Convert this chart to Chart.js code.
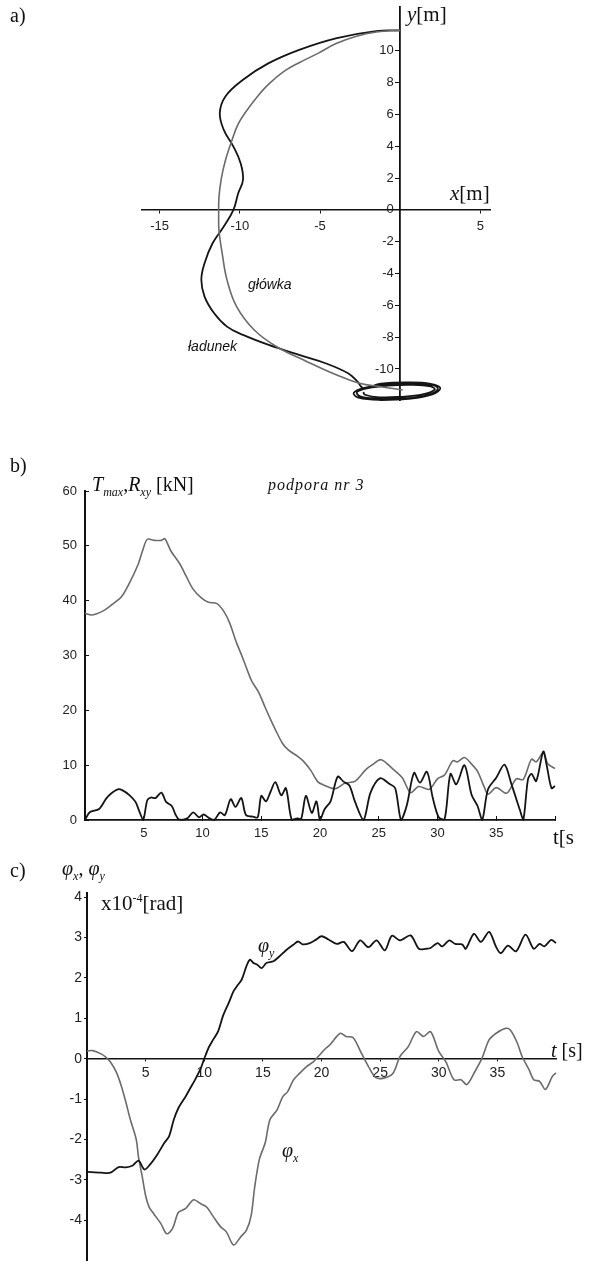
<!DOCTYPE html>
<html lang="pl">
<head>
    <meta charset="UTF-8">
    <title>Trajektoria ładunku, siły i kąty wychylenia</title>
    <script src="https://cdn.jsdelivr.net/npm/chart.js"></script>
    <style>
        body { margin: 0; background: #fff; }
        #strona { position: relative; width: 589px; height: 1261px; overflow: hidden; }
        canvas { position: absolute; left: 0; }
        .opis { position: absolute; white-space: nowrap; line-height: 1; color: #111;
                font-family: 'Liberation Serif', 'Times New Roman', serif; font-size: 20px; }
        .opis sub { font-size: 12px; vertical-align: -5px; line-height: 0; }
        .opis sup { font-size: 12px; vertical-align: 8px; line-height: 0; }
        .etykieta { font-family: 'Liberation Sans', Arial, sans-serif; font-style: italic; font-size: 14px; }
    </style>
</head>
<body>
<div id="strona">
    <canvas id="wykresA" width="589" height="420" style="top:0"></canvas>
    <canvas id="wykresB" width="589" height="430" style="top:430px"></canvas>
    <canvas id="wykresC" width="589" height="401" style="top:860px"></canvas>

    <!-- a) -->
    <div class="opis" style="left:10px; top:5px">a)</div>
    <div class="opis" style="left:407px; top:4px; font-size:21px"><i>y</i>[m]</div>
    <div class="opis" style="left:450px; top:183px; font-size:21px"><i>x</i>[m]</div>
    <div class="opis etykieta" style="left:248px; top:277px">główka</div>
    <div class="opis etykieta" style="left:188px; top:339px">ładunek</div>

    <!-- b) -->
    <div class="opis" style="left:10px; top:455px">b)</div>
    <div class="opis" style="left:92px; top:474px"><i>T</i><sub><i>max</i></sub>,<i>R</i><sub><i>xy</i></sub> [kN]</div>
    <div class="opis" style="left:268px; top:477px; font-size:16px; font-style:italic; letter-spacing:1px">podpora nr 3</div>
    <div class="opis" style="left:553px; top:827px; font-size:21px">t[s</div>

    <!-- c) -->
    <div class="opis" style="left:10px; top:860px">c)</div>
    <div class="opis" style="left:62px; top:858px"><i>φ<sub>x</sub></i>, <i>φ<sub>y</sub></i></div>
    <div class="opis" style="left:101px; top:893px; font-size:21px">x10<sup>-4</sup>[rad]</div>
    <div class="opis" style="left:258px; top:935px"><i>φ<sub>y</sub></i></div>
    <div class="opis" style="left:282px; top:1140px"><i>φ<sub>x</sub></i></div>
    <div class="opis" style="left:551px; top:1040px"><i>t</i> [s]</div>
</div>

<script>
    // a) tor ruchu w płaszczyźnie xy [m]
    var ladunekX = [0, -1.5, -3.95, -6.3, -8.2, -9.8, -10.9, -11.25, -11.0, -10.4,
        -9.95, -9.8, -10.1, -10.4, -11.0, -11.7, -12.2, -12.4, -12.2, -11.6,
        -10.8, -9.8, -8.2, -6.3, -4.66, -3.25, -2.66, -2.3,
        -1.2, 0.5, 1.9, 2.5, 2.0, 0.5, -1.2, -2.6, -2.9, -2.3,
        -1.1, 0.6, 2.0, 2.35, 1.7, 0.3, -1.3, -2.5, -2.7, -2.0,
        -0.8, 0.7, 1.9, 2.15, 1.4, 0, -1.3, -2.2, -2.3];
    var ladunekY = [11.28, 11.24, 10.8, 10.06, 9.22, 8.18, 7.13, 6.08, 5.03, 3.98,
        2.93, 1.89, 1.05, 0, -1.05, -2.1, -3.35, -4.4, -5.45, -6.5,
        -7.34, -7.86, -8.49, -9.12, -9.64, -10.27, -10.8, -11.2,
        -10.92, -10.84, -10.93, -11.2, -11.6, -11.88, -11.95, -11.8, -11.5, -11.2,
        -10.98, -10.9, -11.0, -11.25, -11.65, -11.85, -11.88, -11.72, -11.45, -11.2,
        -11.05, -11.0, -11.1, -11.3, -11.6, -11.75, -11.78, -11.62, -11.45];
    var glowkaX = [0, -1.5, -2.78, -4.0, -5.1, -6.3, -7.25, -8.2, -8.9, -9.6,
        -10.1, -10.55, -10.9, -11.15, -11.3, -11.32, -11.3, -11.1, -10.8, -10.2,
        -9.1, -7.7, -5.8, -3.95, -2.54, -1.2, 0.16];
    var glowkaY = [11.28, 11.18, 10.9, 10.45, 9.85, 9.25, 8.7, 7.9, 7.13, 6.2,
        5.4, 4.2, 3.1, 2.0, 0.8, -0.3, -1.3, -2.73, -4.4, -6.08,
        -7.55, -8.6, -9.54, -10.38, -10.9, -11.12, -11.32];
    var xTicksA = [-15, -10, -5, 5];
    var yTicksA = [-10, -8, -6, -4, -2, 0, 2, 4, 6, 8, 10];

    // b) siły na podporze nr 3 [kN]
    var czasT = [0, 0.6, 1.5, 2.3, 3.1, 3.8, 4.5, 4.9, 5.3, 5.9, 6.5, 6.8, 7.3, 8.1, 8.6, 9.2, 9.9, 10.5, 11.2, 11.8,
        12.3, 12.9, 13.3, 13.8, 14.2, 14.8, 15.3, 15.8, 16.2, 16.8, 17.3, 18.1, 18.6, 19.2, 19.8, 20.3, 21.3, 22.1, 23.0, 23.9,
        24.4, 25.2, 26.1, 27.0, 27.7, 28.4, 29.3, 30.0, 30.6, 31.3, 31.7, 32.3, 32.9, 33.4, 34.0, 34.3, 35.0, 35.9, 36.7, 37.3,
        38.0, 38.4, 39.0, 39.4, 40.0];
    var silaT = [37.7, 37.4, 38.1, 39.3, 40.7, 43.3, 46.5, 49.1, 51.2, 51.0, 51.0, 51.3, 49.1, 46.6, 44.5, 42.1, 40.5, 39.7, 39.5, 38.1,
        36.0, 32.3, 30.2, 27.4, 25.3, 23.2, 20.7, 18.3, 16.5, 14.0, 12.8, 11.6, 10.7, 9.1, 7.0, 6.4, 5.7, 6.7, 7.1, 9.2,
        10.0, 11.0, 9.5, 7.7, 5.0, 6.1, 5.6, 7.5, 8.2, 10.8, 10.6, 11.4, 10.2, 8.9, 5.9, 4.7, 5.9, 4.9, 7.5, 7.4,
        11.1, 10.6, 12.3, 10.2, 9.4];
    var czasR = [0, 0.4, 1.2, 1.8, 2.2, 2.8, 3.2, 3.8, 4.3, 4.6, 4.95, 5.3, 5.6, 6.0, 6.5, 6.9, 7.4, 7.7, 8.0, 8.7,
        9.2, 9.7, 10.1, 10.6, 11.0, 11.5, 11.9, 12.4, 12.8, 13.3, 13.7, 14.3, 14.7, 15.0, 15.4, 15.8, 16.2, 16.7, 17.1, 17.6,
        18.1, 18.4, 18.8, 19.3, 19.7, 20.0, 20.4, 20.9, 21.5, 22.0, 22.5, 23.0, 23.7, 24.3, 25.1, 25.9, 26.4, 26.9, 27.4, 28.0,
        28.5, 29.1, 29.6, 30.1, 30.6, 31.1, 31.6, 32.3, 32.9, 33.4, 33.8, 34.3, 35.0, 35.7, 36.3, 37.0, 37.3, 37.7, 38.0, 38.4,
        39.0, 39.3, 39.7, 40.0];
    var silaR = [0, 1.4, 2.0, 3.9, 4.8, 5.6, 5.4, 4.5, 3.3, 1.7, 0, 3.6, 4.1, 4.0, 5.0, 3.3, 2.5, 1.0, 0.1, 0.3,
        1.4, 0.5, 1.0, 0.3, 0, 1.4, 0.9, 3.8, 2.4, 4.0, 0.9, 0.6, 0.5, 4.4, 3.4, 5.2, 6.9, 4.5, 5.8, 0,
        0.3, 0.2, 4.4, 1.3, 3.4, 0, 2.0, 3.4, 7.9, 7.0, 6.3, 3.2, 0, 5.0, 7.6, 6.6, 5.8, 0, 2.8, 8.6,
        6.8, 8.8, 4.0, 0.5, 0.1, 8.4, 6.5, 10.0, 4.6, 2.6, 0, 5.6, 7.7, 10.1, 6.5, 1.9, 0, 7.4, 8.4, 7.1,
        12.5, 9.9, 5.8, 6.2];
    var xTicksB = [5, 10, 15, 20, 25, 30, 35, 40];
    var yTicksB = [0, 10, 20, 30, 40, 50, 60];

    // c) kąty wychylenia x10^-4 [rad]
    var czasFiY = [0, 1.2, 2.0, 2.7, 3.3, 3.9, 4.4, 4.9, 5.4, 6.0, 6.6, 7.0, 7.4, 7.8, 8.4, 8.8, 9.2, 9.7, 10.0, 10.4,
        10.8, 11.2, 11.6, 12.1, 12.5, 12.8, 13.2, 13.6, 13.9, 14.2, 14.5, 14.9, 15.3, 15.9, 16.4, 17.0, 17.6, 18.0, 18.4, 19.0,
        19.5, 20.0, 20.6, 21.3, 21.9, 22.6, 23.3, 24.0, 24.7, 25.4, 26.0, 26.7, 27.6, 28.3, 28.9, 29.3, 29.9, 30.3, 30.9, 31.4,
        32.0, 32.3, 33.0, 33.6, 34.3, 34.9, 35.3, 35.9, 36.6, 37.4, 38.1, 38.6, 39.0, 39.6, 40.0];
    var fiY = [-2.80, -2.82, -2.82, -2.68, -2.69, -2.64, -2.52, -2.74, -2.61, -2.37, -2.08, -1.92, -1.51, -1.22, -0.94, -0.73, -0.53, -0.24, 0, 0.29,
        0.49, 0.69, 1.06, 1.39, 1.67, 1.80, 1.96, 2.29, 2.45, 2.37, 2.33, 2.24, 2.37, 2.41, 2.53, 2.69, 2.82, 2.90, 2.83, 2.86,
        2.94, 3.03, 2.95, 2.84, 2.89, 2.66, 2.93, 2.76, 2.93, 2.68, 3.04, 2.93, 3.05, 2.72, 2.72, 2.74, 2.86, 2.78, 2.93, 2.84,
        2.83, 2.72, 3.09, 2.89, 3.14, 2.76, 2.61, 2.80, 2.66, 3.07, 2.72, 2.84, 2.78, 2.94, 2.86];
    var czasFiX = [0, 0.5, 1.2, 1.6, 2.0, 2.5, 2.9, 3.3, 3.7, 4.2, 4.4, 4.7, 5.0, 5.3, 5.7, 6.3, 6.8, 7.3, 7.8, 8.4,
        9.1, 9.7, 10.2, 10.8, 11.4, 11.9, 12.5, 13.1, 13.6, 14.0, 14.3, 14.7, 15.2, 15.6, 16.2, 16.7, 17.1, 17.6, 18.1, 18.7,
        19.3, 19.8, 20.3, 20.7, 21.6, 22.1, 22.7, 23.4, 24.0, 24.6, 25.3, 26.1, 26.7, 27.4, 28.1, 28.7, 29.3, 30.0, 30.6, 31.3,
        31.9, 32.4, 33.1, 33.7, 34.3, 34.9, 35.7, 36.1, 36.7, 37.1, 37.7, 38.1, 38.6, 39.1, 39.7, 40.0];
    var fiX = [0.19, 0.20, 0.12, 0.04, -0.08, -0.33, -0.65, -1.06, -1.51, -2.00, -2.45, -2.90, -3.39, -3.67, -3.84, -4.08, -4.33, -4.20, -3.80, -3.71,
        -3.49, -3.59, -3.67, -3.92, -4.16, -4.29, -4.61, -4.41, -4.24, -3.88, -3.18, -2.49, -2.08, -1.51, -1.27, -0.94, -0.82, -0.53, -0.37, -0.20,
        -0.08, 0.08, 0.24, 0.34, 0.63, 0.55, 0.52, 0.14, -0.19, -0.46, -0.48, -0.36, 0.06, 0.30, 0.67, 0.55, 0.67, 0.18, -0.07, -0.52,
        -0.52, -0.64, -0.31, 0.02, 0.47, 0.63, 0.75, 0.71, 0.39, 0.06, -0.27, -0.52, -0.56, -0.76, -0.43, -0.35];
    var xTicksC = [5, 10, 15, 20, 25, 30, 35];
    var yTicksC = [-4, -3, -2, -1, 0, 1, 2, 3, 4];

    var CZARNY = '#141414';
    var SZARY = '#6b6b6b';
    var RODZINA = "'Liberation Sans', Arial, sans-serif";

    function pary(xs, ys) {
        return xs.map(function (x, i) { return { x: x, y: ys[i] }; });
    }
    function stalaLista(lista) {
        return function (skala) {
            skala.ticks = lista.map(function (v) { return { value: v }; });
        };
    }
    function bezMarginesu(skala) {
        skala.paddingLeft = 0; skala.paddingRight = 0;
        skala.paddingTop = 0; skala.paddingBottom = 0;
    }
    function seria(dane, kolor, grubosc, napiecie) {
        return { data: dane, showLine: true, borderColor: kolor, borderWidth: grubosc,
                 pointRadius: 0, tension: napiecie, clip: false };
    }
    function os(kolor, szer, dlTick) {
        return {
            border: { display: true, color: kolor, width: szer },
            grid: { display: true, drawOnChartArea: false, drawTicks: true, tickLength: dlTick, color: kolor, lineWidth: 1 }
        };
    }
    var wspolne = {
        responsive: false,
        animation: false,
        events: [],
        plugins: { legend: { display: false }, tooltip: { enabled: false } }
    };

    // ---- wykres a)
    new Chart(document.getElementById('wykresA'), {
        type: 'scatter',
        data: { datasets: [
            seria(pary(glowkaX, glowkaY), SZARY, 1.6, 0.4),
            seria(pary(ladunekX, ladunekY), CZARNY, 1.8, 0.4)
        ] },
        options: Object.assign({}, wspolne, {
            layout: { padding: { left: 142, right: 99, top: 7, bottom: 20 } },
            scales: {
                x: Object.assign(os('#111', 1.5, 3), {
                    type: 'linear', min: -16.1, max: 5.6, position: { y: 0 },
                    afterBuildTicks: stalaLista(xTicksA), afterFit: bezMarginesu,
                    ticks: { color: '#222', font: { family: RODZINA, size: 13 }, padding: 6, maxRotation: 0, autoSkip: false }
                }),
                y: Object.assign(os('#111', 1.8, 4), {
                    type: 'linear', min: -11.95, max: 12.75, position: { x: 0 },
                    afterBuildTicks: stalaLista(yTicksA), afterFit: bezMarginesu,
                    // etykiety osi w środku wykresu: odsunięcie od osi spacją
                    ticks: { color: '#222', font: { family: RODZINA, size: 13 }, autoSkip: false,
                             callback: function (v) { return v + '\u2002'; } }
                })
            }
        })
    });

    // ---- wykres b)
    new Chart(document.getElementById('wykresB'), {
        type: 'scatter',
        data: { datasets: [
            seria(pary(czasR, silaR), CZARNY, 1.8, 0.3),
            seria(pary(czasT, silaT), SZARY, 1.6, 0.3)
        ] },
        options: Object.assign({}, wspolne, {
            layout: { padding: { left: 40, right: 34, top: 61, bottom: 10 } },
            scales: {
                x: Object.assign(os('#111', 1.8, -4), {
                    type: 'linear', min: 0, max: 40, position: 'bottom',
                    afterBuildTicks: stalaLista(xTicksB),
                    afterFit: function (s) { bezMarginesu(s); s.height = 30; },
                    ticks: { color: '#222', font: { family: RODZINA, size: 13 }, padding: 10, maxRotation: 0, autoSkip: false,
                             callback: function (v) { return v === 40 ? '' : v; } }
                }),
                y: Object.assign(os('#111', 2, -4), {
                    type: 'linear', min: 0, max: 60, position: 'left',
                    afterBuildTicks: stalaLista(yTicksB),
                    afterFit: function (s) { bezMarginesu(s); s.width = 45; },
                    ticks: { color: '#222', font: { family: RODZINA, size: 13 }, padding: 12, autoSkip: false }
                })
            }
        })
    });

    // ---- wykres c)
    new Chart(document.getElementById('wykresC'), {
        type: 'scatter',
        data: { datasets: [
            seria(pary(czasFiY, fiY), CZARNY, 1.8, 0.3),
            seria(pary(czasFiX, fiX), SZARY, 1.6, 0.3)
        ] },
        options: Object.assign({}, wspolne, {
            layout: { padding: { left: 42, right: 33, top: 33, bottom: 1 } },
            scales: {
                x: Object.assign(os('#111', 1.5, 2), {
                    type: 'linear', min: 0, max: 40, position: { y: 0 },
                    afterBuildTicks: stalaLista(xTicksC), afterFit: bezMarginesu,
                    ticks: { color: '#222', font: { family: RODZINA, size: 14 }, padding: 4, maxRotation: 0, autoSkip: false }
                }),
                y: Object.assign(os('#111', 2, 3), {
                    type: 'linear', min: -4.98, max: 4.1, position: 'left',
                    afterBuildTicks: stalaLista(yTicksC),
                    afterFit: function (s) { bezMarginesu(s); s.width = 45; },
                    ticks: { color: '#222', font: { family: RODZINA, size: 14 }, padding: 2, autoSkip: false }
                })
            }
        })
    });
</script>
</body>
</html>
